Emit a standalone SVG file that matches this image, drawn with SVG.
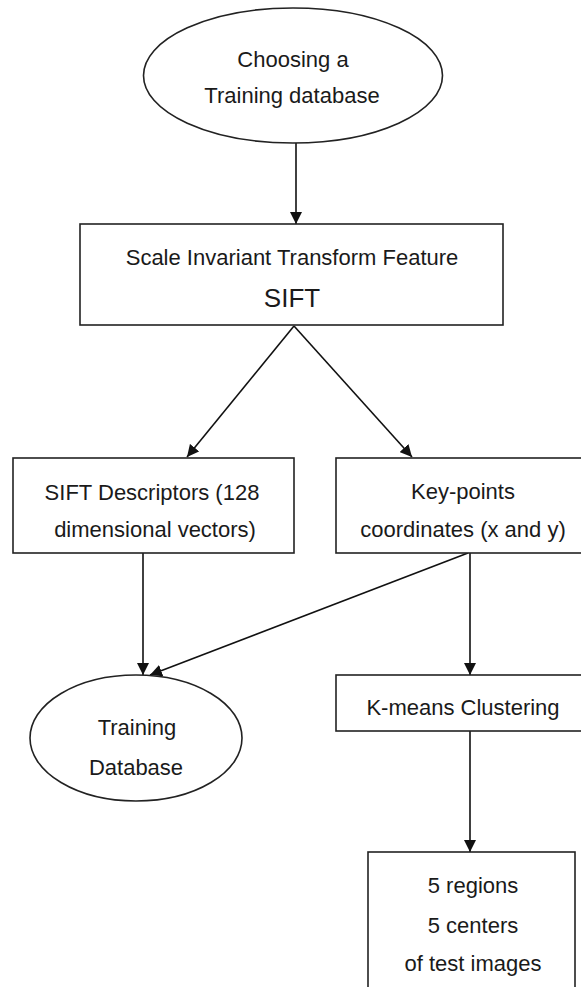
<svg xmlns="http://www.w3.org/2000/svg" width="581" height="987" viewBox="0 0 581 987">
<style>
.n{fill:#fff;stroke:#222;stroke-width:1.6}
.t{font-family:"Liberation Sans",Arial,sans-serif;font-size:22px;fill:#1a1a1a;text-anchor:middle}
.c{stroke:#111;stroke-width:1.6;fill:none;marker-end:url(#ah)}
</style>
<defs>
<marker id="ah" viewBox="0 0 12 12" refX="12" refY="6" markerWidth="12" markerHeight="12" markerUnits="userSpaceOnUse" orient="auto">
<path d="M0,0 L12,6 L0,12 Z" fill="#111"/>
</marker>
</defs>
<rect width="581" height="987" fill="#fff"/>
<g id="connectors">
<line class="c" x1="296" y1="143" x2="296" y2="224"/>
<line class="c" x1="294" y1="326" x2="187" y2="457"/>
<line class="c" x1="294" y1="326" x2="412" y2="457"/>
<line class="c" x1="143" y1="553" x2="143" y2="675"/>
<line class="c" x1="468" y1="553" x2="150" y2="675"/>
<line class="c" x1="470" y1="553" x2="470" y2="675"/>
<line class="c" x1="470" y1="731" x2="470" y2="852"/>
</g>
<g id="choosing">
<ellipse class="n" cx="293" cy="75.5" rx="149.5" ry="67.5"/>
<text class="t" x="293" y="67">Choosing a</text>
<text class="t" x="292" y="103">Training database</text>
</g>
<g id="sift">
<rect class="n" x="80" y="224" width="423" height="101"/>
<text class="t" x="292" y="265">Scale Invariant Transform Feature</text>
<text class="t" x="292" y="307" style="font-size:26px">SIFT</text>
</g>
<g id="descriptors">
<rect class="n" x="13" y="458" width="281" height="95"/>
<text class="t" x="152" y="500">SIFT Descriptors (128</text>
<text class="t" x="155" y="537">dimensional vectors)</text>
</g>
<g id="keypoints">
<rect class="n" x="336" y="458" width="260" height="95"/>
<text class="t" x="463" y="499">Key-points</text>
<text class="t" x="463" y="537">coordinates (x and y)</text>
</g>
<g id="trainingdb">
<ellipse class="n" cx="136" cy="738" rx="106" ry="63"/>
<text class="t" x="137" y="735">Training</text>
<text class="t" x="136" y="775">Database</text>
</g>
<g id="kmeans">
<rect class="n" x="336" y="675" width="260" height="56"/>
<text class="t" x="463" y="715">K-means Clustering</text>
</g>
<g id="regions">
<rect class="n" x="368" y="852" width="207" height="150"/>
<text class="t" x="473" y="893">5 regions</text>
<text class="t" x="473" y="933">5 centers</text>
<text class="t" x="473" y="971">of test images</text>
</g>
</svg>
